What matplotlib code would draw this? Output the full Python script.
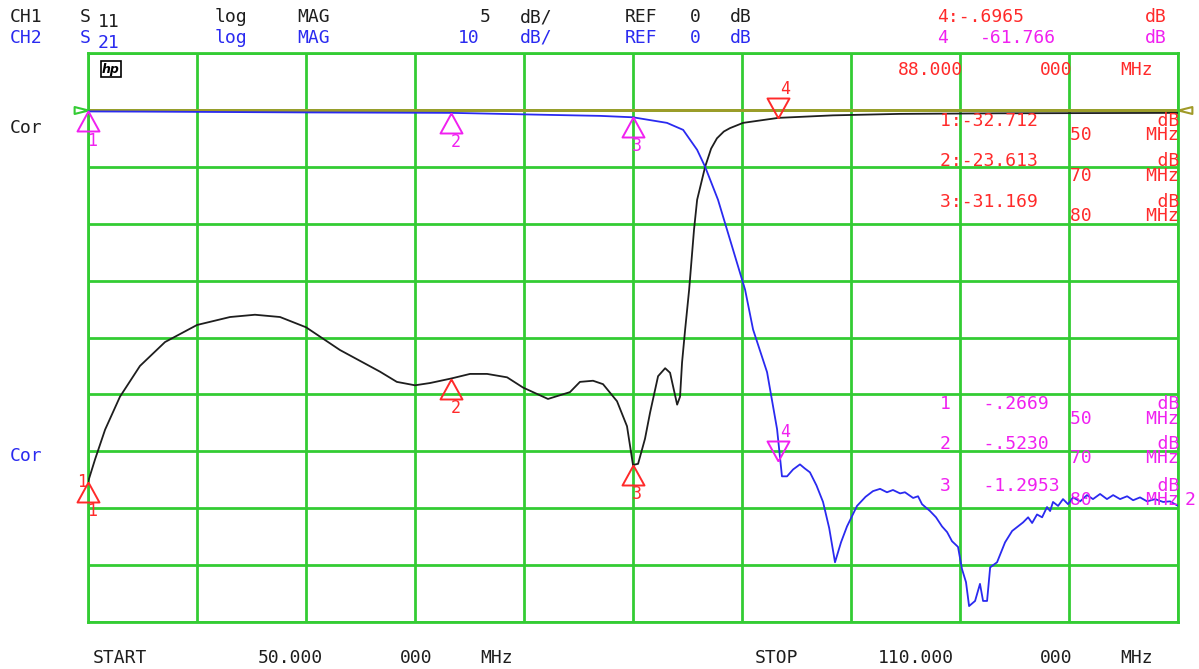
import matplotlib
matplotlib.use("Agg")
import matplotlib.pyplot as plt
from matplotlib.path import Path
import numpy as np

W, H = 1199, 669

# ---------------- data ----------------
start_mhz, stop_mhz = 50, 110
ch1_scale, ch2_scale = 5, 10      # dB / div
ref_db = 0

s11_freq = [50.0, 50.39, 50.94, 51.76, 52.86, 54.24, 56.0, 57.82, 59.19, 60.57,
            62.0, 63.87, 66.07, 67.0, 68.0, 68.83, 70.0, 71.03, 71.97, 73.07,
            73.95, 75.32, 76.53, 77.08, 77.8, 78.35, 79.12, 79.67, 80.0, 80.28,
            80.66, 80.94, 81.38, 81.77, 82.04, 82.43, 82.59, 82.7, 82.87, 83.09,
            83.36, 83.53, 83.97, 84.3, 84.62, 85.0, 85.34, 86.06, 88.0, 91.0,
            94.7, 100.2, 110.0]
s11_db = [-32.7, -30.7, -28.1, -25.2, -22.5, -20.4, -18.9, -18.2, -18.0, -18.2,
          -19.1, -21.1, -23.0, -23.9, -24.2, -24.0, -23.6, -23.2, -23.2, -23.5,
          -24.4, -25.4, -24.8, -23.9, -23.8, -24.1, -25.6, -27.8, -31.2, -31.1,
          -28.9, -26.6, -23.4, -22.7, -23.1, -25.9, -25.2, -22.2, -19.3, -15.8,
          -10.5, -7.9, -5.0, -3.4, -2.5, -1.9, -1.6, -1.14, -0.70, -0.48,
          -0.35, -0.3, -0.26]

s21_freq = [50.0, 53.0, 56.17, 61.67, 70.0, 75.43, 78.19, 80.0, 81.87, 82.76,
            83.53, 83.97, 84.68, 85.34, 86.17, 86.61, 87.38, 87.93, 88.2, 88.48,
            88.81, 89.19, 89.45, 89.74, 90.1, 90.46, 90.8, 91.12, 91.45, 91.78,
            92.33, 92.8, 93.21, 93.6, 93.98, 94.31, 94.7, 94.97, 95.42, 95.69,
            95.91, 96.35, 96.68, 97.01, 97.29, 97.56, 97.89, 98.11, 98.33, 98.5,
            98.83, 99.1, 99.27, 99.49, 99.66, 100.04, 100.48, 100.87, 101.47, 101.75,
            101.97, 102.24, 102.52, 102.79, 102.96, 103.12, 103.4, 103.67, 103.95, 104.22,
            104.61, 104.99, 105.32, 105.71, 106.09, 106.43, 106.81, 107.2, 107.53, 107.91,
            108.3, 108.74, 109.18, 109.56, 109.95]
s21_db = [-0.27, -0.30, -0.35, -0.44, -0.52, -0.88, -1.05, -1.30, -2.28, -3.51,
          -7.02, -10.0, -15.8, -22.8, -31.6, -38.6, -46.1, -56.1, -64.4, -64.4,
          -63.2, -62.3, -63.0, -63.7, -66.0, -68.9, -73.5, -79.5, -76.0, -73.2,
          -69.6, -68.0, -67.0, -66.6, -67.2, -66.8, -67.4, -67.2, -68.2, -67.9,
          -69.3, -70.5, -71.6, -73.2, -74.2, -75.8, -76.8, -80.7, -83.0, -87.2,
          -86.3, -83.3, -86.3, -86.3, -80.4, -79.5, -76.0, -74.0, -72.5, -71.6,
          -72.6, -71.1, -71.6, -69.8, -70.5, -68.9, -69.6, -68.4, -69.3, -68.1,
          -68.8, -67.7, -68.4, -67.5, -68.4, -67.7, -68.4, -67.9, -68.6, -68.1,
          -68.8, -68.4, -68.9, -68.8, -69.5]

marker_freq = [50, 70, 80, 88]
s11_marker_db = [-32.712, -23.613, -31.169, -0.6965]
s21_marker_db = [-0.2669, -0.5230, -1.2953, -61.766]
marker_names = ["1", "2", "3", "4"]

# ---------------- style ----------------
GREEN = "#33cc33"
OLIVE = "#a09a28"
BLACK = "#1e1e1e"
BLUE = "#2a2af0"
RED = "#ff2a2a"
MAG = "#f020f0"
FONT = "DejaVu Sans Mono"
FS = 13

fig = plt.figure(figsize=(W / 100, H / 100), dpi=100)
fig.patch.set_facecolor("white")

ax = fig.add_axes([88 / W, 1 - 622 / H, (1178 - 88) / W, (622 - 53) / H])
ax.set_xlim(start_mhz, stop_mhz)
ax.set_ylim(ref_db - 9 * ch1_scale, ref_db + 1 * ch1_scale)
ax.set_xticks(np.arange(start_mhz, stop_mhz + 0.1, (stop_mhz - start_mhz) / 10))
ax.set_yticks(np.arange(ref_db - 9 * ch1_scale, ref_db + 1 * ch1_scale + 0.1, ch1_scale))
ax.grid(True, color=GREEN, lw=2)
ax.tick_params(length=0, labelbottom=False, labelleft=False)
for sp in ax.spines.values():
    sp.set_color(GREEN)
    sp.set_linewidth(2)

ax2 = ax.twinx()
ax2.set_ylim(ref_db - 9 * ch2_scale, ref_db + 1 * ch2_scale)
ax2.set_yticks([])
ax2.tick_params(length=0, labelright=False)
for sp in ax2.spines.values():
    sp.set_visible(False)

# reference line and end pointers
ax.axhline(ref_db, color=OLIVE, lw=2, zorder=2)
left_ptr = Path([(0, 0), (-1, 0.25), (-1, -0.25), (0, 0)])
right_ptr = Path([(0, 0), (1, 0.25), (1, -0.25), (0, 0)])
ax.plot([start_mhz], [ref_db], marker=left_ptr, ms=20, mfc="none", mec=GREEN, mew=1.5,
        clip_on=False, ls="none")
ax.plot([stop_mhz], [ref_db], marker=right_ptr, ms=20, mfc="none", mec=OLIVE, mew=1.5,
        clip_on=False, ls="none")

# traces
ax.plot(s11_freq, s11_db, color=BLACK, lw=1.3, zorder=3)
ax2.plot(s21_freq, s21_db, color=BLUE, lw=1.3, zorder=3)

# markers
up_tri = Path([(0, 0), (-0.55, -1), (0.55, -1), (0, 0)])
down_tri = Path([(0, 0), (-0.55, 1), (0.55, 1), (0, 0)])
for a, vals, col in [(ax, s11_marker_db, RED), (ax2, s21_marker_db, MAG)]:
    for f, v, name in zip(marker_freq, vals, marker_names):
        active = name == "4"
        a.plot([f], [v], marker=down_tri if active else up_tri, ms=28.8, mfc="none",
               mec=col, mew=1.4, ls="none", clip_on=False, zorder=5)
        off = (5, 21) if active else (3, -21)
        a.annotate(name, (f, v), xytext=off, textcoords="offset points", ha="center",
                   va="center", color=col, fontsize=12, family=FONT, zorder=6,
                   annotation_clip=False)
ax.annotate("1", (marker_freq[0], s11_marker_db[0]), xytext=(-4.5, 0), textcoords="offset points",
            ha="center", va="center", color=RED, fontsize=12, family=FONT, annotation_clip=False)


def put(x, y, s, color, size=FS, ha="left", **kw):
    fig.text(x / W, 1 - y / H, s, color=color, fontsize=size, family=FONT, ha=ha,
             va="center", **kw)


# header
for words, y, col in [
    ([(10, "CH1"), (80, "S"), (215, "log"), (297, "MAG"), (480, "5"), (520, "dB/"),
      (625, "REF"), (690, "0"), (730, "dB")], 17, BLACK),
    ([(10, "CH2"), (80, "S"), (215, "log"), (297, "MAG"), (458, "10"), (520, "dB/"),
      (625, "REF"), (690, "0"), (730, "dB")], 38, BLUE),
]:
    for x, s in words:
        put(x, y, s, col)
put(98, 22, "11", BLACK)
put(98, 43, "21", BLUE)
put(937, 17, "4:-.6965", RED)
put(1145, 17, "dB", RED)
put(937, 38, "4", MAG)
put(980, 38, "-61.766", MAG)
put(1145, 38, "dB", MAG)

# left labels
put(10, 128, "Cor", BLACK)
put(10, 456, "Cor", BLUE)

# hp logo
fig.text(102 / W, 1 - 69 / H, "hp", fontsize=9, family="DejaVu Sans", weight="bold",
         style="italic", va="center", ha="left",
         bbox=dict(boxstyle="square,pad=0.12", fc="white", ec="black", lw=1.2))

# stimulus readout inside grid
put(898, 70, "88.000", RED)
put(1040, 70, "000", RED)
put(1120, 70, "MHz", RED)

# marker list channel 1 (two-line blocks, right aligned)
for i, yc in enumerate([128, 168.5, 209]):
    line1 = f"{marker_names[i]}:{s11_marker_db[i]:.3f}".ljust(20) + "dB"
    line2 = f"{marker_freq[i]}".ljust(7) + "MHz"
    put(1179, yc, line1 + "\n" + line2, RED, ha="right", linespacing=0.72)

# marker list channel 2
for i, yc in enumerate([411.5, 451, 493]):
    val = f"{s21_marker_db[i]:.4f}".replace("-0.", "-.")
    line1 = (f"{marker_names[i]}   " + val).ljust(20) + "dB"
    line2 = f"{marker_freq[i]}".ljust(7) + "MHz"
    put(1179, yc, line1 + "\n" + line2, MAG, ha="right", linespacing=0.72)
put(1185, 500, "2", MAG)

# footer
put(93, 658, "START", BLACK)
put(258, 658, "50.000", BLACK)
put(400, 658, "000", BLACK)
put(480, 658, "MHz", BLACK)
put(755, 658, "STOP", BLACK)
put(878, 658, "110.000", BLACK)
put(1040, 658, "000", BLACK)
put(1120, 658, "MHz", BLACK)

fig.savefig("out.png", dpi=100)
